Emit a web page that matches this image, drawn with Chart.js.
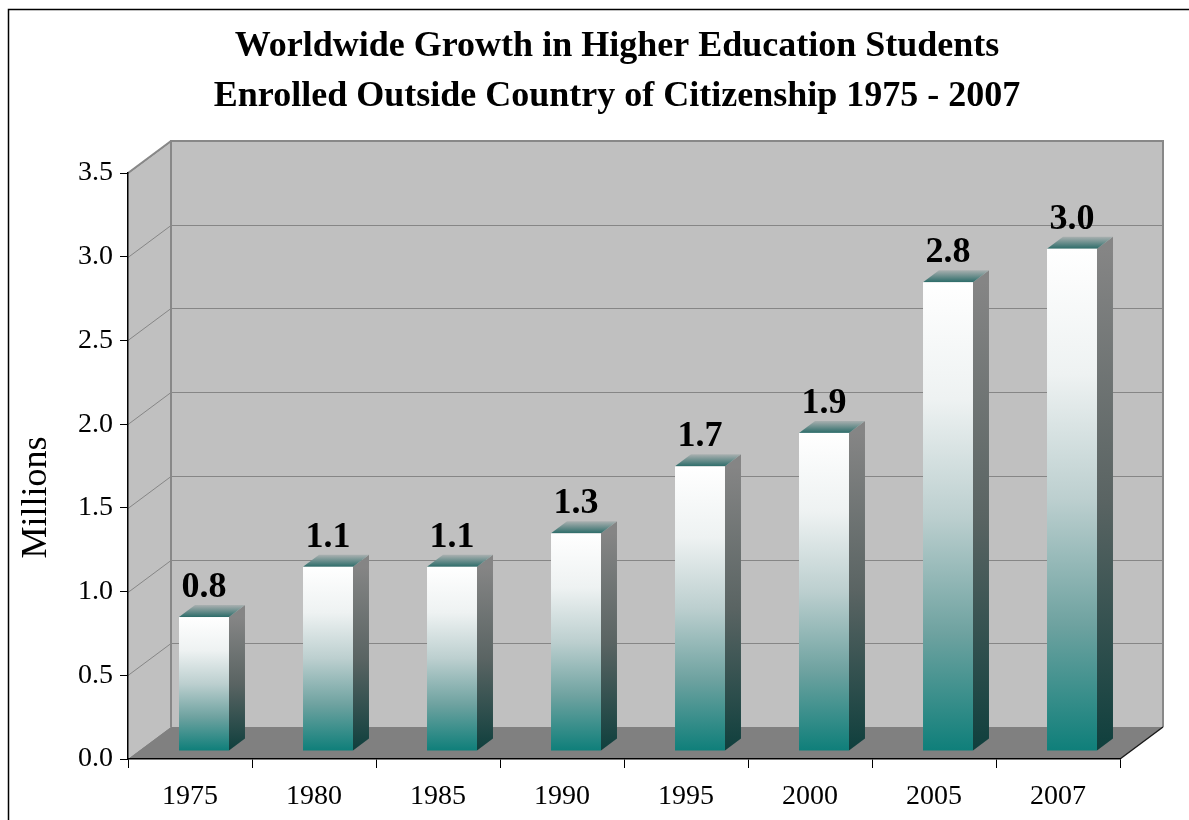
<!DOCTYPE html>
<html>
<head>
<meta charset="utf-8">
<title>Worldwide Growth in Higher Education Students</title>
<script src="https://cdn.jsdelivr.net/npm/chart.js@4/dist/chart.umd.min.js"></script>
<style>
  html, body { margin: 0; padding: 0; background: #fff; }
  #wrap { width: 1189px; height: 820px; }
</style>
</head>
<body>
<div id="wrap"><canvas id="chart" width="1189" height="820"></canvas></div>
<script>
// Worldwide growth in students enrolled abroad, 1975 - 2007 (millions)

const YEARS    = ['1975', '1980', '1985', '1990', '1995', '2000', '2005', '2007'];
const STUDENTS = [0.8, 1.1, 1.1, 1.3, 1.7, 1.9, 2.8, 3.0];
const Y_MIN  = 0;
const Y_MAX  = 3.5;
const Y_STEP = 0.5;
const TITLE_LINES = [
  'Worldwide Growth in Higher Education Students',
  'Enrolled Outside Country of Citizenship 1975 - 2007',
];
// trailing spaces push the rotated title a bit lower, like the original
const Y_TITLE = 'Millions       ';

const SERIF = "'Liberation Serif', 'Times New Roman', serif";

// fake 3D: depth of the box, offset of the bar front and the bar's own depth
const DEPTH = { dx: 43, dy: -32 };
const BAR_SHIFT = { dx: 14, dy: -8 };
const BAR_DEPTH = { dx: 16, dy: -12 };

const box3d = {
  id: 'box3d',
  beforeDraw(chart) {
    const { ctx, chartArea: a, scales: { y } } = chart;
    const L = a.left, R = a.right;
    const T = y.getPixelForValue(Y_MAX), B = y.getPixelForValue(Y_MIN);
    const { dx, dy } = DEPTH;
    ctx.save();

    // outer frame
    ctx.strokeStyle = '#000';
    ctx.lineWidth = 1.5;
    ctx.strokeRect(8.5, 9.5, 1400, 1000);

    // side wall + back wall
    ctx.fillStyle = '#c0c0c0';
    ctx.beginPath();
    ctx.moveTo(L, B); ctx.lineTo(L, T); ctx.lineTo(L + dx, T + dy); ctx.lineTo(L + dx, B + dy);
    ctx.closePath(); ctx.fill();
    ctx.fillRect(L + dx, T + dy, R - L, B - T);

    // gridlines
    ctx.strokeStyle = '#868686';
    ctx.lineWidth = 1;
    y.ticks.forEach(t => {
      const yp = Math.round(y.getPixelForValue(t.value)) + 0.5;
      ctx.beginPath();
      ctx.moveTo(L, yp); ctx.lineTo(L + dx, yp + dy); ctx.lineTo(R + dx, yp + dy);
      ctx.stroke();
    });

    // wall edges
    ctx.lineWidth = 2;
    ctx.strokeStyle = '#888';
    ctx.beginPath();
    ctx.moveTo(L + dx, B + dy); ctx.lineTo(L + dx, T + dy); ctx.lineTo(R + dx, T + dy); ctx.lineTo(R + dx, B + dy);
    ctx.stroke();
    ctx.beginPath();
    ctx.moveTo(L, T); ctx.lineTo(L + dx, T + dy);
    ctx.stroke();

    // floor
    ctx.fillStyle = '#808080';
    ctx.beginPath();
    ctx.moveTo(L, B); ctx.lineTo(L + dx, B + dy); ctx.lineTo(R + dx, B + dy); ctx.lineTo(R, B);
    ctx.closePath(); ctx.fill();
    ctx.strokeStyle = '#1a1a1a';
    ctx.lineWidth = 1.5;
    ctx.beginPath();
    ctx.moveTo(R, B); ctx.lineTo(R + dx, B + dy);
    ctx.stroke();
    ctx.restore();
  },

  afterDatasetsDraw(chart) {
    const { ctx } = chart;
    const meta = chart.getDatasetMeta(0);
    ctx.save();
    meta.data.forEach((bar, i) => {
      const { x, y, base, width } = bar.getProps(['x', 'y', 'base', 'width'], true);
      const fl = x - width / 2 + BAR_SHIFT.dx, fr = fl + width;
      const ft = y + BAR_SHIFT.dy, fb = base + BAR_SHIFT.dy;
      const sx = BAR_DEPTH.dx, sy = BAR_DEPTH.dy;

      // side face
      let g = ctx.createLinearGradient(0, ft, 0, fb);
      g.addColorStop(0, '#858585');
      g.addColorStop(0.5, '#5a6463');
      g.addColorStop(1, '#0f3f3d');
      ctx.fillStyle = g;
      ctx.beginPath();
      ctx.moveTo(fr, ft); ctx.lineTo(fr + sx, ft + sy); ctx.lineTo(fr + sx, fb + sy); ctx.lineTo(fr, fb);
      ctx.closePath(); ctx.fill();

      // top face
      g = ctx.createLinearGradient(0, ft, 0, ft + sy);
      g.addColorStop(0, '#2c6c69');
      g.addColorStop(1, '#a9b0b0');
      ctx.fillStyle = g;
      ctx.beginPath();
      ctx.moveTo(fl, ft); ctx.lineTo(fl + sx, ft + sy); ctx.lineTo(fr + sx, ft + sy); ctx.lineTo(fr, ft);
      ctx.closePath(); ctx.fill();

      // front face
      g = ctx.createLinearGradient(0, ft, 0, fb);
      g.addColorStop(0, '#ffffff');
      g.addColorStop(0.25, '#eef2f2');
      g.addColorStop(0.5, '#bccfcf');
      g.addColorStop(0.75, '#6ea2a0');
      g.addColorStop(1, '#0f7f7a');
      ctx.fillStyle = g;
      ctx.fillRect(fl, ft, width, fb - ft);

      // value label
      ctx.fillStyle = '#000';
      ctx.font = 'bold 36px ' + SERIF;
      ctx.textAlign = 'center';
      ctx.textBaseline = 'alphabetic';
      ctx.fillText(STUDENTS[i].toFixed(1), fl + width / 2, ft - 20);
    });
    ctx.restore();
  },
};

new Chart(document.getElementById('chart'), {
  type: 'bar',
  data: {
    labels: YEARS,
    datasets: [{
      data: STUDENTS,
      backgroundColor: 'rgba(0,0,0,0)',
      borderWidth: 0,
      barPercentage: 0.403,
      categoryPercentage: 1,
    }],
  },
  options: {
    responsive: false,
    animation: false,
    devicePixelRatio: 1,
    layout: { padding: { left: 45, right: 0, top: 0, bottom: 0 } },
    plugins: {
      legend: { display: false },
      tooltip: { enabled: false },
      title: {
        display: true,
        text: TITLE_LINES,
        color: '#000',
        font: { family: SERIF, size: 36, weight: 'bold', lineHeight: 50 / 36 },
        padding: { top: 22, bottom: 51 },
      },
    },
    scales: {
      x: {
        grid: { drawOnChartArea: false, drawTicks: true, tickLength: 9, color: '#000', offset: true },
        border: { display: true, color: '#000', width: 1.5 },
        ticks: { color: '#000', font: { family: SERIF, size: 28 }, padding: 12 },
        afterFit(s) { s.height = 61; },
      },
      y: {
        min: Y_MIN,
        max: Y_MAX,
        ticks: {
          stepSize: Y_STEP,
          color: '#000',
          font: { family: SERIF, size: 28 },
          padding: 7,
          callback: v => Number(v).toFixed(1),
        },
        grid: { drawOnChartArea: false, drawTicks: true, tickLength: 8, color: '#000' },
        border: { display: true, color: '#000', width: 1.5 },
        title: {
          display: true,
          text: Y_TITLE,
          color: '#000',
          font: { family: SERIF, size: 36 },
          padding: { top: -30, bottom: 0 },
        },
        afterFit(s) { s.width = 83; },
      },
      // empty right-hand axis only to reserve the space right of the floor
      yRight: {
        position: 'right',
        display: true,
        min: Y_MIN,
        max: Y_MAX,
        grid: { display: false },
        border: { display: false },
        ticks: { display: false },
        afterFit(s) { s.width = 69; },
      },
    },
  },
  plugins: [box3d],
});
</script>
</body>
</html>
